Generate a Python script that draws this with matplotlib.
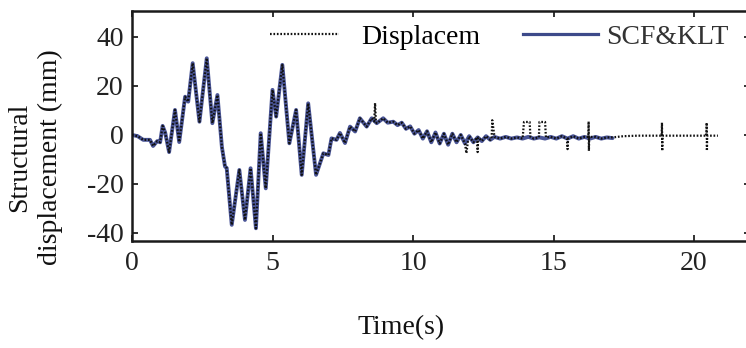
import matplotlib
matplotlib.use("Agg")
import matplotlib.pyplot as plt
from matplotlib.lines import Line2D

# ---- data (time in s, displacement in mm) ----
scf_time = [0.00, 0.20, 0.40, 0.64, 0.75, 0.90, 1.00, 1.09, 1.18, 1.32, 1.53, 1.68,
            1.89, 2.00, 2.16, 2.40, 2.66, 2.86, 3.04, 3.20, 3.31, 3.37, 3.55, 3.82,
            4.02, 4.22, 4.41, 4.58, 4.76, 5.00, 5.13, 5.35, 5.60, 5.84, 6.04, 6.27,
            6.55, 6.81, 6.99, 7.10, 7.28, 7.40, 7.58, 7.76, 7.94, 8.11, 8.35, 8.53,
            8.71, 8.94, 9.10, 9.30, 9.45, 9.60, 9.75, 9.90, 10.05, 10.20, 10.35, 10.50,
            10.65, 10.80, 10.95, 11.10, 11.25, 11.40, 11.55, 11.70, 11.85, 12.00, 12.15,
            12.30, 12.45, 12.60, 12.75, 12.90, 13.10, 13.30, 13.50, 13.70, 13.90, 14.10,
            14.30, 14.50, 14.70, 14.90, 15.10, 15.30, 15.50, 15.70, 15.90, 16.10, 16.30,
            16.50, 16.70, 16.90, 17.10]
scf_value = [0.0, -0.5, -2.0, -2.0, -4.5, -2.5, -3.0, 3.7, 1.0, -7.0, 10.2, -2.9,
             15.6, 13.6, 29.3, 5.4, 31.3, 4.8, 16.3, -5.0, -12.9, -13.5, -36.7, -14.3,
             -34.7, -13.6, -38.1, 0.7, -21.8, 18.4, 7.5, 28.6, -3.4, 10.2, -16.3, 12.9,
             -16.3, -7.5, -8.2, -1.4, -2.0, 0.8, -3.3, 3.4, 1.4, 6.8, 3.4, 6.8,
             4.8, 6.8, 5.0, 5.4, 4.0, 5.0, 2.5, 3.5, 0.5, 2.0, -1.5, 1.5,
             -3.0, 1.0, -3.5, 0.5, -4.0, 0.5, -3.0, 0.0, -3.5, -0.5, -3.0,
             -1.0, -2.5, -0.5, -2.0, -0.8, -1.5, -0.8, -1.5, -1.0, -1.5, -0.8,
             -1.5, -1.0, -1.5, -0.8, -1.5, -0.5, -1.5, -0.5, -1.5, -0.8, -1.5,
             -0.8, -1.5, -1.0, -1.3]

disp_time = [0.00, 0.20, 0.40, 0.64, 0.75, 0.90, 1.00, 1.09, 1.18, 1.32, 1.53, 1.68,
             1.89, 2.00, 2.16, 2.40, 2.66, 2.86, 3.04, 3.20, 3.31, 3.37, 3.55, 3.82,
             4.02, 4.22, 4.41, 4.58, 4.76, 5.00, 5.13, 5.35, 5.60, 5.84, 6.04, 6.27,
             6.55, 6.81, 6.99, 7.10, 7.28, 7.40, 7.58, 7.76, 7.94, 8.11, 8.35, 8.53,
             8.62, 8.65, 8.68, 8.71, 8.94, 9.10, 9.30, 9.45, 9.60, 9.75, 9.90, 10.05,
             10.20, 10.35, 10.50, 10.65, 10.80, 10.95, 11.10, 11.25, 11.40, 11.55, 11.70,
             11.85, 11.90, 11.95, 12.00, 12.15, 12.28, 12.30, 12.32, 12.45, 12.60, 12.75,
             12.80, 12.82, 12.90, 13.10, 13.30, 13.50, 13.70, 13.90, 13.95, 14.15, 14.18,
             14.30, 14.48, 14.50, 14.70, 14.73, 14.90, 15.10, 15.30, 15.48, 15.50, 15.52,
             15.70, 15.90, 16.10, 16.24, 16.25, 16.26, 16.27, 16.50, 16.70, 16.90, 17.10,
             17.50, 18.00, 18.50, 18.85, 18.86, 18.87, 18.88, 19.30, 19.80, 20.20, 20.44,
             20.45, 20.46, 20.47, 20.85]
disp_value = [0.0, -0.5, -2.0, -2.0, -4.5, -2.5, -3.0, 3.7, 1.0, -7.0, 10.2, -2.9,
              15.6, 13.6, 29.3, 5.4, 31.3, 4.8, 16.3, -5.0, -12.9, -13.5, -36.7, -14.3,
              -34.7, -13.6, -38.1, 0.7, -21.8, 18.4, 7.5, 28.6, -3.4, 10.2, -16.3, 12.9,
              -16.3, -7.5, -8.2, -1.4, -2.0, 0.8, -3.3, 3.4, 1.4, 6.8, 3.4, 6.8,
              5.5, 13.0, 5.5, 4.8, 6.8, 5.0, 5.4, 4.0, 5.0, 2.5, 3.5, 0.5,
              2.0, -1.5, 1.5, -3.0, 1.0, -3.5, 0.5, -4.0, 0.5, -3.0, 0.0,
              -3.5, -7.5, -3.0, -0.5, -3.0, -1.0, -7.0, -1.0, -2.5, -0.5, -2.0,
              -0.8, 6.0, -0.8, -1.5, -0.8, -1.5, -1.0, -1.5, 5.3, 5.3, -0.8,
              -1.5, -1.0, 5.3, 5.3, -1.0, -0.8, -1.5, -0.5, -1.5, -5.8, -1.5,
              -0.5, -1.5, -0.8, -0.8, 5.5, -6.5, -0.8, -0.8, -1.5, -1.0, -1.0,
              -0.5, -0.3, -0.3, -0.3, 5.0, -6.5, -0.3, -0.3, -0.3, -0.3, -0.3,
              5.0, -6.5, -0.3, -0.3]

xticks = [0, 5, 10, 15, 20]
yticks = [-40, -20, 0, 20, 40]
series_labels = ["Displacem", "SCF&KLT"]

# ---- figure ----
W, H = 746, 348
plt.rcParams['font.family'] = ["Liberation Serif", "DejaVu Serif"]
plt.rcParams['axes.unicode_minus'] = False
fig = plt.figure(figsize=(W / 100, H / 100), dpi=100)

ax = fig.add_axes([132 / W, 107 / H, (750 - 132) / W, 230 / H])

blue = "#4a5596"
dot_style = dict(color="#111111", lw=1.6, dashes=(0.75, 0.8))
(l_blue,) = ax.plot(scf_time, scf_value, color=blue, lw=2.8, zorder=2,
                    solid_joinstyle="round", solid_capstyle="round")
(l_black,) = ax.plot(disp_time, disp_value, zorder=3, **dot_style)

ax.set_xlim(0, (750 - 132) / 28.1)
ax.set_ylim(-43.3, 50.6)
ax.set_xticks(xticks)
ax.set_yticks(yticks)
ax.tick_params(direction="in", length=4, width=1.3, labelsize=20,
               top=True, right=True, colors="#222222", pad=6)
ax.tick_params(axis="x", pad=7)
for s in ax.spines.values():
    s.set_linewidth(1.8)
    s.set_color("#1a1a1a")

# legends (two separate entries to match spacing)
leg1 = ax.legend([Line2D([], [], **dot_style)],
                 [series_labels[0]], loc="center left",
                 bbox_to_anchor=(270 / W, (H - 37) / H), bbox_transform=fig.transFigure,
                 frameon=False, fontsize=20, handlelength=2.5, handletextpad=0.8,
                 borderpad=0, borderaxespad=0)
ax.add_artist(leg1)
leg2 = ax.legend([Line2D([], [], color="#3d4a8a", lw=2.3)],
                 [series_labels[1]], loc="center left",
                 bbox_to_anchor=(523 / W, (H - 37) / H), bbox_transform=fig.transFigure,
                 frameon=False, fontsize=20, handlelength=2.7, handletextpad=0.3,
                 borderpad=0, borderaxespad=0)
for t in leg2.get_texts():
    t.set_color("#333333")

fig.text(35 / W, (H - 157) / H, "Structural\ndisplacement (mm)", rotation=90,
         ha="center", va="center", fontsize=20, linespacing=1.3, color="#111111")
fig.text(401 / W, (H - 328) / H, "Time(s)", ha="center", va="center",
         fontsize=20, color="#111111")

fig.savefig("out.png", dpi=100)
